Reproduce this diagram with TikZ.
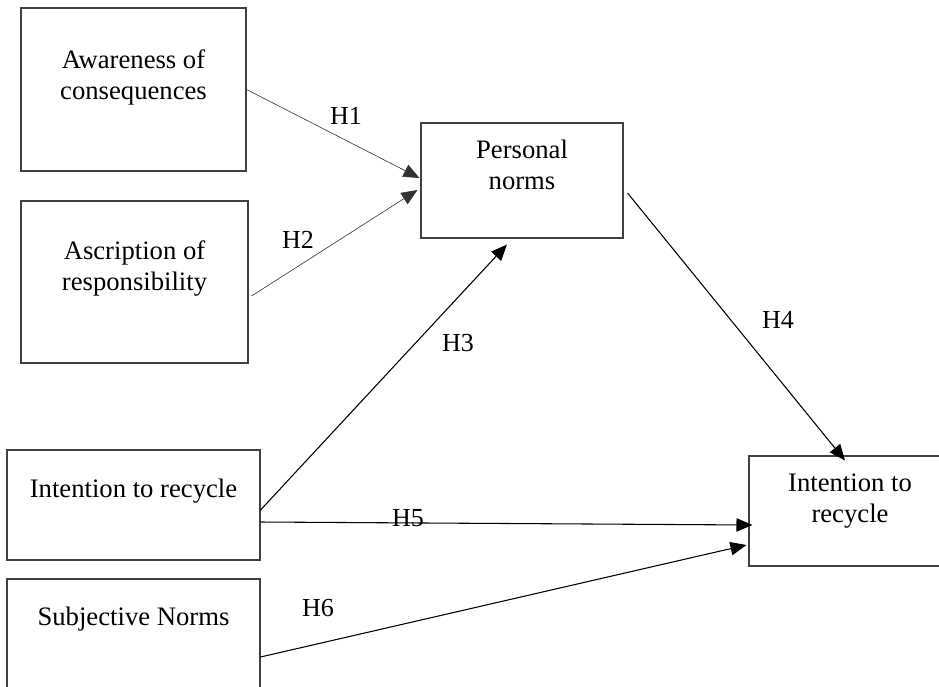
\documentclass[tikz,border=0pt]{standalone}
\usepackage{fontspec}
\setmainfont{Liberation Serif}
\usetikzlibrary{arrows.meta,calc}
\begin{document}
\begin{tikzpicture}[x=0.75pt,y=-0.75pt,
  box/.style={draw=black!75, line width=0.8pt, inner sep=0pt},
  txt/.style={inner sep=0pt, align=center, font=\fontsize{20}{23.25}\selectfont},
  lab/.style={inner sep=0pt, font=\fontsize{19.5}{22}\selectfont},
  thinarr/.style={draw=black!80, line width=0.45pt, -{Triangle[length=12pt,width=10pt]}},
  arr/.style={draw=black, line width=0.8pt, -{Triangle[length=12pt,width=10pt]}}]
\path[use as bounding box] (0,0) rectangle (939,686);
\clip (0,0) rectangle (939,686);
% boxes
\node[box, minimum width=168.75pt, minimum height=122.25pt] (B1) at (133.5,89.5) {};
\node[box, minimum width=170.25pt, minimum height=121.5pt] (B2) at (134.5,282) {};
\node[box, minimum width=151.5pt, minimum height=86.25pt] (PN) at (522,180.5) {};
\node[box, minimum width=189.75pt, minimum height=82.5pt] (IRL) at (133.5,505) {};
\node[box, minimum width=189.75pt, minimum height=82.5pt] (SN) at (133.5,634) {};
\node[box, minimum width=151.5pt, minimum height=82.5pt] (IRR) at (850,511) {};
% texts (base anchor = baseline of last line)
\node[txt, anchor=base] (B1t) at (133.5,99) {Awareness of\\consequences};
\node[txt, anchor=base] (B2t) at (134.5,290) {Ascription of\\responsibility};
\node[txt, anchor=base] (PNt) at (522,189) {Personal\\norms};
\node[txt, anchor=base] (IRLt) at (133.5,497) {Intention to recycle};
\node[txt, anchor=base] (SNt) at (133.5,625) {Subjective Norms};
\node[txt, anchor=base] (IRRt) at (850,522) {Intention to\\recycle};
% connectors
\draw[thinarr] (B1.east) -- ($(PN.west)+(-1,-2.5)$);
\draw[thinarr] ($(B2.east)+(3,14)$) -- ($(PN.west)+(-3,9.5)$);
\draw[arr] ($(IRL.east)+(0,5)$) -- ($(PN.south)+(-15,6)$);
\draw[arr] ($(PN.east)+(4,12.5)$) -- ($(IRR.north)+(-5,5)$);
\draw[arr] ($(IRL.east)+(0,17)$) -- ($(IRR.west)+(4,14)$);
\draw[arr] ($(SN.east)+(0,23)$) -- ($(IRR.west)+(-2,34)$);
% labels
\node[lab] (H1) at (346,116) {H1};
\node[lab] (H2) at (298,240) {H2};
\node[lab] (H3) at (458,343) {H3};
\node[lab] (H4) at (778,320) {H4};
\node[lab] (H5) at (408,518) {H5};
\node[lab] (H6) at (318,608) {H6};
\end{tikzpicture}
\end{document}
